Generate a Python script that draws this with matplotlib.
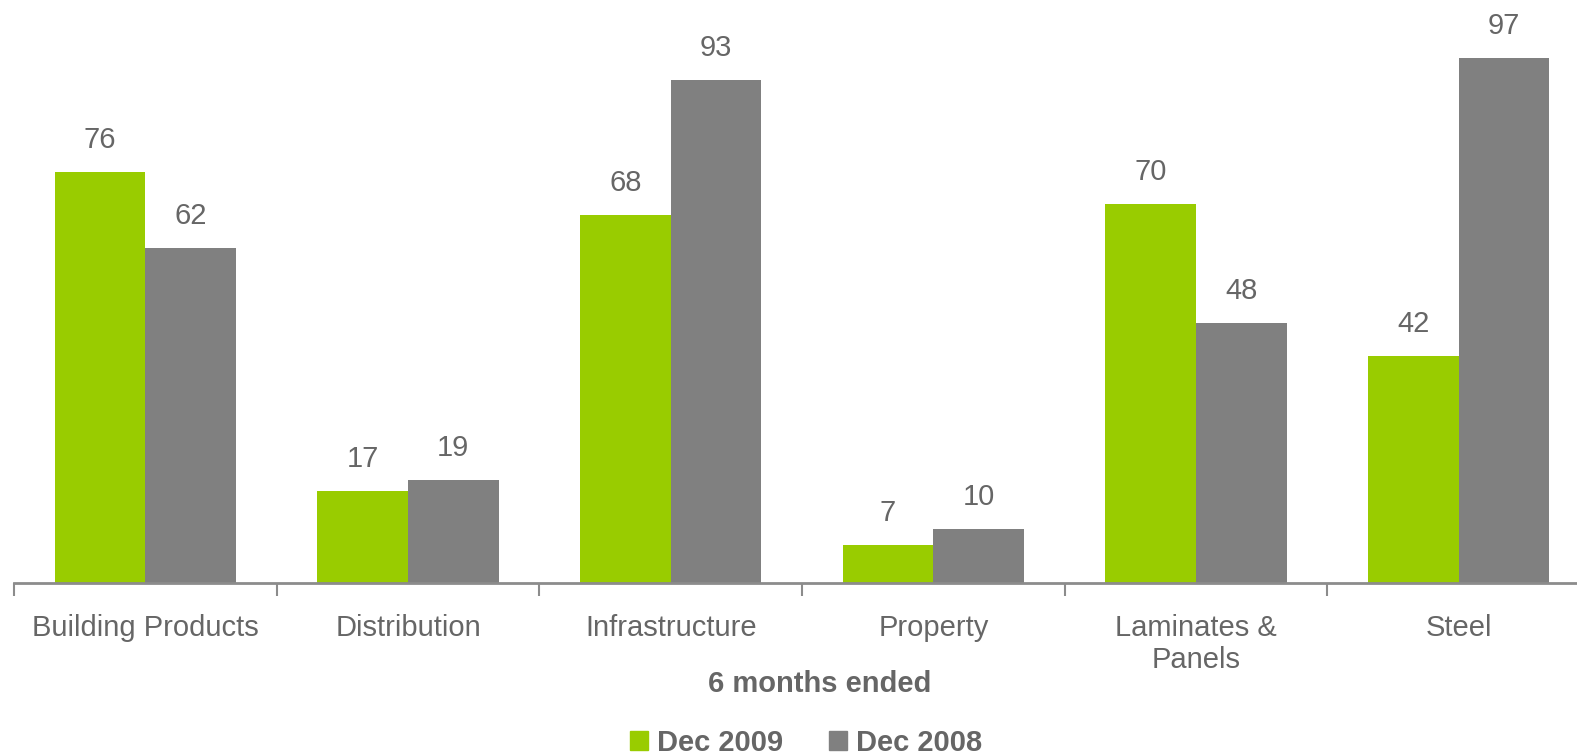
import numpy as np
import matplotlib.pyplot as plt
from matplotlib.patches import Patch

# %% data
categories = ['Building Products', 'Distribution', 'Infrastructure',
              'Property', 'Laminates &\nPanels', 'Steel']
dec_2009 = [76, 17, 68, 7, 70, 42]
dec_2008 = [62, 19, 93, 10, 48, 97]
series_names = ['Dec 2009', 'Dec 2008']

green = '#99CC00'
grey = '#808080'
text_col = '#666666'

plt.rcParams['font.family'] = ['Liberation Sans', 'DejaVu Sans']
fs = 21

# %% figure
fig = plt.figure(figsize=(15.77, 7.54), dpi=100)
W, H = 1577, 754
base_y = 583
px_per_unit = 5.41
ymax = 107
top_y = base_y - px_per_unit * ymax
ax = fig.add_axes([14 / W, 1 - base_y / H, 1 - 14 / W, (base_y - top_y) / H])

x = np.arange(len(categories))
w = 0.345
b1 = ax.bar(x - w / 2, dec_2009, w, color=green, label=series_names[0])
b2 = ax.bar(x + w / 2, dec_2008, w, color=grey, label=series_names[1])

for bars in (b1, b2):
    for rect in bars:
        h = rect.get_height()
        ax.annotate(f'{h:.0f}', (rect.get_x() + rect.get_width() / 2, h),
                    xytext=(0, 13), textcoords='offset points',
                    ha='center', va='bottom', fontsize=fs, color=text_col)

# cosmetics
for s in ['top', 'right', 'left']:
    ax.spines[s].set_visible(False)
ax.spines['bottom'].set_color('#8c8c8c')
ax.spines['bottom'].set_linewidth(2)
ax.set_yticks([])

ax.set_xticks(np.arange(-0.5, 6, 1), minor=False)
ax.set_xticklabels([])
ax.tick_params(axis='x', which='major', length=9, width=1.5, color='#8c8c8c')
ax.set_xticks(x, minor=True)
ax.set_xticklabels(categories, minor=True, fontsize=fs, color=text_col,
                   va='top', linespacing=1.2)
ax.tick_params(axis='x', which='minor', length=0, pad=22)

# limits after ticks (set_xticks widens the view)
ax.set_xlim(-0.5, 5.45)
ax.set_ylim(0, ymax)

fig.text(820 / W, 1 - 684 / H, '6 months ended', ha='center', va='center',
         fontsize=fs, fontweight='bold', color=text_col)

handles = [Patch(color=green), Patch(color=grey)]
leg = fig.legend(handles, series_names, loc='center', bbox_to_anchor=(806 / W, 1 - 743 / H),
                 ncol=2, frameon=False, handlelength=0.6, handleheight=0.6,
                 handletextpad=0.3, columnspacing=1.6,
                 prop={'size': fs, 'weight': 'bold'})
for t in leg.get_texts():
    t.set_color(text_col)

fig.savefig('out.png', dpi=100)
